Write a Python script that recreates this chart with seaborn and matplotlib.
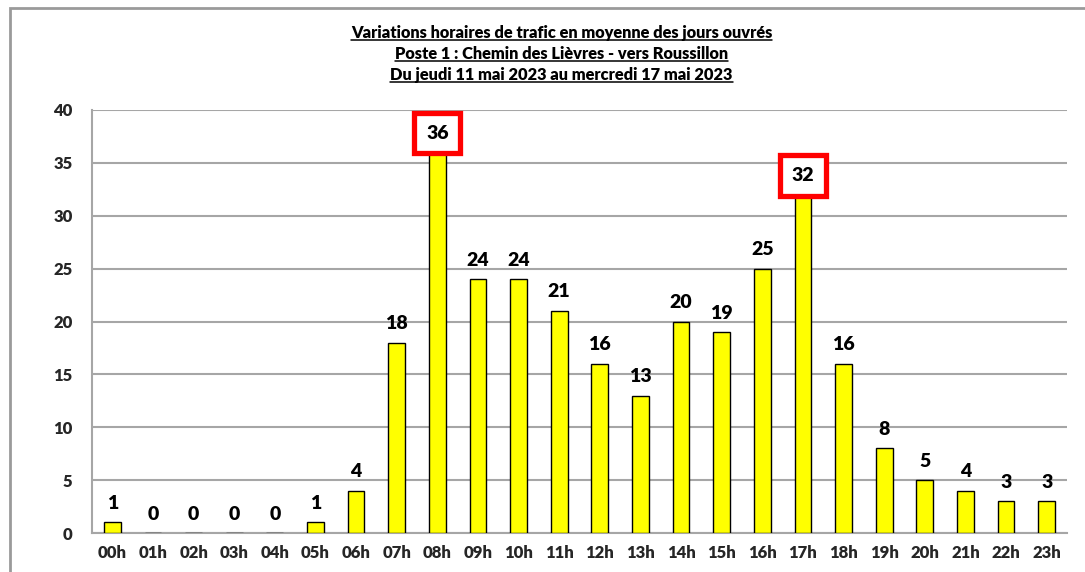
import matplotlib
matplotlib.use("Agg")
import matplotlib.pyplot as plt
import matplotlib.patches as mpatches
from matplotlib.lines import Line2D
import seaborn as sns
import pandas as pd

hours = ["00h", "01h", "02h", "03h", "04h", "05h", "06h", "07h", "08h", "09h", "10h", "11h",
         "12h", "13h", "14h", "15h", "16h", "17h", "18h", "19h", "20h", "21h", "22h", "23h"]
values = [1, 0, 0, 0, 0, 1, 4, 18, 36, 24, 24, 21, 16, 13, 20, 19, 25, 32, 16, 8, 5, 4, 3, 3]
highlighted = ["08h", "17h"]
yticks = [0, 5, 10, 15, 20, 25, 30, 35, 40]
title_lines = ["Variations horaires de trafic en moyenne des jours ouvrés",
               "Poste 1 : Chemin des Lièvres - vers Roussillon",
               "Du jeudi 11 mai 2023 au mercredi 17 mai 2023"]

sns.set_style("white")
plt.rcParams["font.family"] = ["Lato", "DejaVu Sans"]
plt.rcParams["font.weight"] = "bold"

df = pd.DataFrame({"heure": hours, "valeur": values})

fig = plt.figure(figsize=(10.85, 5.72), dpi=100)
ax = fig.add_axes([92/1085, 1 - 533/572, (1067-92)/1085, (533-110)/572])

sns.barplot(data=df, x="heure", y="valeur", ax=ax, color="#FFFF00", width=0.41,
            edgecolor="black", linewidth=1.0, saturation=1, zorder=3)

ax.set_xlim(-0.5, 23.5)
ax.set_ylim(0, 40)
ax.set_yticks(yticks)
ax.yaxis.grid(True, color="#a6a6a6", linewidth=1.5, zorder=0)
ax.set_axisbelow(True)
ax.set_xlabel("")
ax.set_ylabel("")
for s in ["top", "right"]:
    ax.spines[s].set_visible(False)
for s in ["left", "bottom"]:
    ax.spines[s].set_color("#a6a6a6")
    ax.spines[s].set_linewidth(1.5)
ax.tick_params(axis="y", length=0, pad=14, labelsize=12)
ax.tick_params(axis="x", length=0, pad=9, labelsize=12)
for lab in ax.get_xticklabels() + ax.get_yticklabels():
    lab.set_fontweight("heavy")

for i, (h, v) in enumerate(zip(hours, values)):
    kw = {}
    if h in highlighted:
        kw["bbox"] = dict(boxstyle="square,pad=0.6", fc="white", ec="#ff0000", lw=3.8)
    ax.annotate(str(v), xy=(i, v), xytext=(0, 19), textcoords="offset pixels",
                ha="center", va="center", fontsize=14, fontweight="heavy",
                color="black", zorder=5, **kw)

# title lines with underline
title_texts = []
for k, line in enumerate(title_lines):
    y = 1 - (33 + 21*k)/572
    t = fig.text(561.5/1085, y, line, ha="center", va="center", fontsize=11.8,
                 fontweight="heavy", color="black")
    title_texts.append(t)

fig.canvas.draw()
renderer = fig.canvas.get_renderer()
for t in title_texts:
    bb = t.get_window_extent(renderer)
    yl = bb.y0 + 1.5
    fig.add_artist(Line2D([bb.x0, bb.x1], [yl, yl], transform=None, color="black", lw=1.1))

# outer chart frame
frame = mpatches.Rectangle((10/1085, -0.05), 1.2, 1.05 - 8/572, transform=fig.transFigure,
                           fill=False, ec="#9a9a9a", lw=2.0)
fig.add_artist(frame)

fig.savefig("out.png", dpi=100)
